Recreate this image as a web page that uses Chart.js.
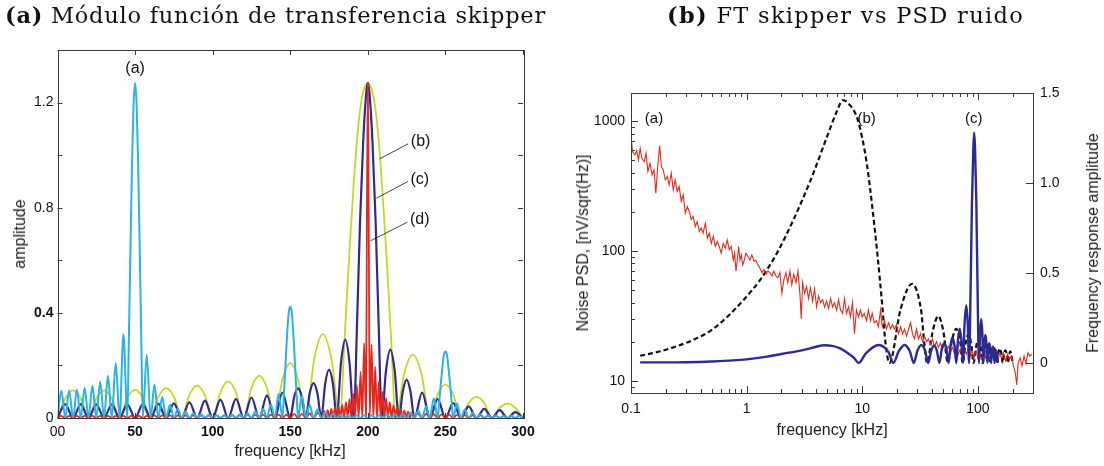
<!DOCTYPE html>
<html>
<head>
<meta charset="utf-8">
<script src="https://cdn.jsdelivr.net/npm/chart.js@4.4.1/dist/chart.umd.min.js"></script>
<style>
  body { margin: 0; background: #fff; }
  #wrap { position: relative; width: 1104px; height: 466px; background: #fff; overflow: hidden; }
  canvas { position: absolute; top: 0; }
  .hdr { position: absolute; top: 2px; font-family: "DejaVu Serif", serif; font-size: 22.5px; color: #111; white-space: nowrap; }
  .hdr b { font-weight: bold; }
  .lab { position: absolute; font-family: "Liberation Sans", Arial, sans-serif; font-size: 16px; color: #222; white-space: nowrap; transform: translate(-50%, -50%); }
  .rot { transform: translate(-50%, -50%) rotate(-90deg); }
</style>
</head>
<body>
<div id="wrap">
  <canvas id="left" width="560" height="466" style="left:0"></canvas>
  <canvas id="right" width="544" height="466" style="left:560px"></canvas>
  <div class="hdr" style="left:5px; letter-spacing:0.75px"><b>(a)</b> Módulo función de transferencia skipper</div>
  <div class="hdr" style="left:667px; letter-spacing:1.3px"><b>(b)</b> FT skipper vs PSD ruido</div>
  <div class="lab rot" style="left:20px; top:234px">amplitude</div>
  <div class="lab" style="left:290px; top:451px">frequency [kHz]</div>
  <div class="lab rot" style="left:583px; top:243px">Noise PSD, [nV/sqrt(Hz)]</div>
  <div class="lab" style="left:832px; top:430px">frequency [kHz]</div>
  <div class="lab rot" style="left:1093px; top:243px">Frequency response amplitude</div>
</div>
<script>
// ---- panel (a): transfer function modulus, 4 curves ----
const freqA = [0, 2.5, 5, 7.5, 10, 12.5, 15, 17.5, 20, 22.5, 25, 27.5, 30, 32.5, 35, 37.5, 40, 42.5, 45,
  46, 47, 48, 49, 50, 51, 52, 53, 54, 55,
  57.5, 60, 62.5, 65, 67.5, 70, 72.5, 75, 77.5, 80, 82.5, 85, 87.5, 90, 92.5, 95, 97.5, 100, 102.5, 105,
  107.5, 110, 112.5, 115, 117.5, 120, 122.5, 125, 127.5, 130, 132.5, 135, 137.5, 140, 142.5, 145,
  146, 147, 148, 149, 150, 151, 152, 153, 154,
  155, 157.5, 160, 162.5, 165, 167.5, 170, 172.5, 175, 177.5, 180, 182.5, 185, 187.5, 190, 192.5, 195,
  197.5, 200, 202.5, 205, 207.5, 210, 212.5, 215, 217.5, 220, 222.5, 225, 227.5, 230, 232.5, 235, 237.5,
  240, 242.5, 245,
  246, 247, 248, 249, 250, 251, 252, 253, 254,
  255, 257.5, 260, 262.5, 265, 267.5, 270, 272.5, 275, 277.5, 280, 282.5, 285, 287.5, 290, 292.5, 295, 297.5, 300];
const ampA = [0, .105, 0, .105, 0, .108, 0, .114, 0, .123, 0, .138, 0, .161, 0, .209, 0, .319, 0,
  .30, .64, .96, 1.19, 1.274, 1.19, .96, .64, .30, 0,
  .241, 0, .127, 0, .08, 0, .05, 0, .035, 0, .025, 0, .018, 0, .014, 0, .012, 0, .01, 0,
  .01, 0, .012, 0, .014, 0, .018, 0, .025, 0, .034, 0, .052, 0, .092, 0,
  .10, .21, .32, .40, .424, .40, .32, .21, .10,
  0, .085, 0, .05, 0, .032, 0, .022, 0, .016, 0, .012, 0, .01, 0, .01, 0,
  .01, 0, .01, 0, .01, 0, .012, 0, .014, 0, .016, 0, .02, 0, .028, 0, .045,
  0, .075, 0,
  .06, .13, .19, .24, .253, .24, .19, .13, .06,
  0, .055, 0, .032, 0, .02, 0, .014, 0, .011, 0, .009, 0, .008, 0, .008, 0, .008, 0];

const freqB = [0, 5, 10, 15, 20, 25, 30, 35, 40, 45, 50, 55, 60, 65, 70, 75, 80, 85, 90, 95, 100, 105, 110,
  115, 120, 125, 130, 135, 140, 145, 150, 155, 160, 165.5, 171, 176.5, 182,
  185, 188, 191, 194, 197, 200, 203, 206, 209, 212, 215,
  218, 223.5, 229, 234.5, 240, 245, 250, 255, 260, 265, 270, 275, 280, 285, 290, 295, 300];
const ampB = [0, .074, .105, .074, 0, .074, .105, .074, 0, .076, .108, .076, 0, .081, .114, .081, 0, .087, .123, .087, 0, .098, .139,
  .098, 0, .114, .161, .114, 0, .148, .209, .148, 0, .226, .319, .226, 0,
  .3, .62, .9, 1.12, 1.24, 1.274, 1.24, 1.12, .9, .62, .3,
  0, .17, .241, .17, 0, .09, .127, .09, 0, .057, .08, .057, 0, .039, .055, .039, 0];

const freqC = [0, 5, 10, 15, 20, 25, 30, 35, 40, 45, 50, 55, 60, 65, 70, 75, 80, 85, 90, 95, 100, 105, 110, 115,
  120, 125, 130, 135, 140, 145, 150, 152.5, 155, 157.5, 160, 162.5, 165, 167.5, 170, 172.5, 175, 177.5, 180,
  182.7, 185.5, 188.2, 191, 193, 195, 197, 199, 200, 201, 203, 205, 207, 209,
  211.7, 214.5, 217.3, 220, 222.5, 225, 227.5, 230, 235, 240, 245, 250, 255, 260, 265, 270, 275, 280, 285, 290, 295, 300];
const ampC = [0, .053, 0, .053, 0, .052, 0, .052, 0, .052, 0, .053, 0, .055, 0, .056, 0, .06, 0, .066, 0, .07, 0, .073,
  0, .078, 0, .086, 0, .097, 0, .08, .113, .08, 0, .094, .133, .094, 0, .13, .184, .13, 0,
  .21, .298, .21, 0, .35, .75, 1.05, 1.24, 1.274, 1.24, 1.05, .75, .35, 0,
  .18, .26, .18, 0, .1, .146, .1, 0, .097, 0, .072, 0, .057, 0, .044, 0, .035, 0, .03, 0, .022, 0];

const freqD = [0, 2.5, 5, 7.5, 10, 12.5, 15, 17.5, 20, 22.5, 25, 27.5, 30, 32.5, 35, 37.5, 40, 42.5, 45, 47.5,
  50, 52.5, 55, 57.5, 60, 62.5, 65, 67.5, 70, 72.5, 75, 77.5, 80, 82.5, 85, 87.5, 90, 92.5, 95, 97.5,
  100, 102.5, 105, 107.5, 110, 112.5, 115, 117.5, 120, 122.5, 125, 127.5, 130, 132.5, 135, 137.5, 140, 142.5,
  145, 147.5, 150, 152.5, 155, 157.5, 160, 162.5, 165,
  167.8, 170.6, 171.8, 172.95, 174.1, 175.3, 176.5, 177.65, 178.8, 180, 181.2, 182.35, 183.5, 184.7, 185.9,
  187.05, 188.2, 189.4, 190.6, 191.75, 192.9, 194.1, 195.3, 196.45, 197.6, 198.8, 199.4, 200, 200.6, 201.2,
  202.4, 203.55, 204.7, 205.9, 207.1, 208.25, 209.4, 210.6, 211.8, 212.95, 214.1, 215.3, 216.5, 217.65,
  218.8, 220, 221.2, 222.35, 223.5, 224.7, 225.9, 227.05, 228.2, 229.4,
  232, 235, 237.5, 240, 242.5, 245, 247.5, 250, 252.5, 255, 257.5, 260, 262.5, 265, 267.5, 270, 272.5, 275,
  277.5, 280, 282.5, 285, 287.5, 290, 292.5, 295, 297.5, 300];
const ampD = [0, .008, 0, .008, 0, .008, 0, .008, 0, .008, 0, .008, 0, .008, 0, .008, 0, .008, 0, .008,
  0, .008, 0, .008, 0, .01, 0, .01, 0, .01, 0, .01, 0, .01, 0, .01, 0, .01, 0, .01,
  0, .01, 0, .01, 0, .01, 0, .01, 0, .013, 0, .013, 0, .013, 0, .013, 0, .013,
  0, .013, 0, .016, 0, .016, 0, .018, 0,
  .02, 0, .027, 0, .03, 0, .035, 0, .04, 0, .044, 0, .05, 0, .06,
  0, .073, 0, .093, 0, .125, 0, .175, 0, .285, 0, .75, 1.274, .75, 0,
  .28, 0, .195, 0, .138, 0, .1, 0, .076, 0, .06, 0, .048, 0,
  .04, 0, .033, 0, .028, 0, .024, 0, .021, 0,
  .018, 0, .016, 0, .015, 0, .014, 0, .013, 0, .012, 0, .011, 0, .01, 0, .01, 0,
  .009, 0, .009, 0, .008, 0, .008, 0, .008, 0];

const xTicksA = [0, 50, 100, 150, 200, 250, 300];
const xLabelsA = ['00', '50', '100', '150', '200', '250', '300'];
const yTicksA = [0, 0.4, 0.8, 1.2];
const yLabelsA = ['0', '0.4', '0.8', '1.2'];
const yMarksA = [0, 0.2, 0.4, 0.6, 0.8, 1.0, 1.2, 1.4];

// ---- panel (b): skipper FT vs noise PSD ----
const noiseFreq = [0.1, 0.103, 0.108, 0.112, 0.116, 0.12, 0.124, 0.13, 0.135, 0.14,
  0.146, 0.152, 0.158, 0.164, 0.171, 0.177, 0.183, 0.19, 0.198, 0.206,
  0.214, 0.223, 0.232, 0.241, 0.251, 0.261, 0.272, 0.283, 0.295, 0.307,
  0.319, 0.332, 0.345, 0.36, 0.374, 0.39, 0.405, 0.42, 0.44, 0.457,
  0.475, 0.495, 0.515, 0.536, 0.557, 0.58, 0.603, 0.627, 0.654, 0.68,
  0.708, 0.737, 0.767, 0.787, 0.809, 0.83, 0.853, 0.876, 0.9, 0.924,
  0.948, 0.987, 1.03, 1.07, 1.11, 1.16, 1.2, 1.25, 1.3, 1.36,
  1.41, 1.47, 1.53, 1.59, 1.66, 1.72, 1.79, 1.86, 1.94, 2.02,
  2.1, 2.19, 2.27, 2.37, 2.46, 2.56, 2.67, 2.78, 2.89, 2.97,
  3.05, 3.17, 3.3, 3.43, 3.57, 3.72, 3.87, 4.03, 4.19, 4.36,
  4.54, 4.72, 4.92, 5.12, 5.32, 5.54, 5.76, 6.0, 6.24, 6.49,
  6.76, 7.03, 7.31, 7.61, 7.92, 8.24, 8.57, 8.91, 9.28, 9.65,
  10.0, 10.4, 10.9, 11.3, 11.8, 12.2, 12.7, 13.3, 13.8, 14.4,
  14.9, 15.6, 16.2, 16.9, 17.6, 18.3, 19.0, 19.8, 20.6, 21.5,
  22.3, 23.2, 24.2, 25.2, 26.2, 27.2, 28.3, 29.5, 30.7, 31.9,
  33.2, 34.6, 36.0, 37.4, 38.9, 40.5, 42.2, 43.9, 45.6, 47.5,
  49.4, 51.4, 53.4, 55.6, 57.8, 60.2, 62.6, 65.1, 67.7, 70.4,
  73.3, 76.2, 79.3, 82.4, 85.8, 89.2, 92.8, 96.5, 100, 104,
  108, 113, 117, 122, 127, 132, 137, 143, 148, 154,
  161, 167, 174, 181, 188, 196, 203, 211, 217, 223,
  232, 241, 251, 261, 271, 282, 292];
const noisePsd = [781, 581, 548, 591, 501, 616, 516, 487, 564, 408,
  472, 384, 420, 278, 472, 642, 445, 420, 352, 373,
  322, 396, 294, 352, 286, 313, 240, 270, 195, 219,
  201, 174, 184, 154, 168, 141, 150, 137, 163, 125,
  137, 114, 129, 108, 118, 108, 96, 114, 105, 121,
  102, 108, 85, 96, 70, 85, 108, 85, 93, 78,
  83, 96, 90, 85, 93, 83, 85, 78, 74, 68,
  72, 66, 70, 68, 64, 70, 64, 62, 68, 47,
  60, 68, 57, 70, 55, 66, 57, 70, 47, 30,
  57, 47, 53, 43, 52, 41, 51, 37, 45, 40,
  42, 37, 41, 36, 43, 37, 40, 35, 42, 35,
  33, 43, 33, 37, 31, 40, 23, 35, 31, 35,
  31, 33, 29, 35, 29, 33, 28, 29, 26, 35,
  26, 29, 25, 28, 25, 27, 25, 27, 23, 26,
  23, 25, 22, 25, 28, 23, 21, 25, 21, 23,
  20, 22, 20, 21, 19, 21, 18.4, 20, 18, 19.5,
  17.5, 19, 17, 18.4, 17, 18, 16.4, 18.4, 16, 17.5,
  15.5, 18, 16, 17.5, 15.5, 17, 15, 17, 15, 16.4,
  14.6, 17, 15, 16.4, 14.6, 16, 14.6, 16.4, 14.2, 16,
  15, 16.4, 14.2, 16, 14.6, 15.5, 13, 11.5, 9.3, 13.6,
  15, 13, 15.5, 13.6, 16.4, 15.5, 16];

const ftFreq = [0.12, 0.18, 0.25, 0.35, 0.49, 0.68, 0.95, 1.32, 1.84, 2.56, 3.6, 4.98, 6.05, 6.8, 7.9, 9.05, 10,
  11, 12.2, 13.5, 14.9, 15.9, 17.2, 21.5, 27, 32, 36.5, 40.5, 45.5, 50.5, 55, 60, 65, 70, 74, 78.5, 83, 87.5,
  92, 96.5, 101, 105.5, 110, 114.5, 119, 123.5, 128, 132.5, 137, 141.5, 146, 150.5, 155, 159.5, 164, 168.5,
  173, 177.5, 182, 186.5, 191, 195.5, 200];
const ftAmp = [0.04, 0.065, 0.093, 0.13, 0.18, 0.256, 0.353, 0.465, 0.613, 0.80, 1.02, 1.26, 1.40, 1.46, 1.43, 1.36, 1.25,
  1.10, 0.87, 0.61, 0.32, 0.11, 0, 0.30, 0.44, 0.31, 0, 0.17, 0.26, 0.17, 0, 0.13, 0.19, 0.13, 0, 0.11, 0.16, 0.11,
  0, 0.09, 0.13, 0.09, 0, 0.07, 0.10, 0.07, 0, 0.06, 0.09, 0.06, 0, 0.055, 0.08, 0.055, 0, 0.05, 0.07,
  0.05, 0, 0.045, 0.065, 0.045, 0];

const skFreq = [0.12, 0.2, 0.3, 0.5, 0.7, 1, 1.5, 2, 3, 4, 4.7, 5.5, 6.5, 7.5, 8.5, 9.3,
  10.8, 13.9, 16.9, 18.6, 20.7, 23.2, 25.8, 27.9, 30, 32.5, 35, 37.2, 39.5, 41.8, 44.2, 46.5,
  48.8, 51.2, 53.5, 55.8, 58.1, 60.4, 62.7, 65.1, 67.4, 69.7, 72, 74.4, 76.8, 79.4, 81.8, 84,
  86.5, 89, 91.5, 93, 94.5, 97, 99.5, 102.3,
  104.6, 107, 109.3, 111.6, 113.9, 116.2, 118.6, 120.9, 123.2, 125.5, 127.9, 130.2, 132.5, 134.8,
  137.2, 139.5, 141.8, 144.1, 146.5, 148.8];
const skAmp = [0.003, 0.003, 0.004, 0.008, 0.013, 0.02, 0.035, 0.05, 0.07, 0.09, 0.098, 0.095, 0.08, 0.055, 0.028, 0,
  0.055, 0.10, 0.06, 0, 0.065, 0.10, 0.065, 0, 0.068, 0.10, 0.068, 0, 0.068, 0.097, 0.068, 0,
  0.078, 0.11, 0.078, 0, 0.1, 0.14, 0.1, 0, 0.13, 0.19, 0.13, 0, 0.22, 0.32, 0.22, 0,
  0.4, 0.9, 1.2, 1.28, 1.2, 0.9, 0.4, 0,
  0.17, 0.245, 0.17, 0, 0.11, 0.155, 0.11, 0, 0.08, 0.11, 0.08, 0, 0.065, 0.09,
  0.065, 0, 0.05, 0.07, 0.05, 0];

const xTicksB = [0.1, 1, 10, 100];
const xLabelsB = ['0.1', '1', '10', '100'];
const xMinorB = [0.2, 0.3, 0.4, 0.5, 0.6, 0.7, 0.8, 0.9, 2, 3, 4, 5, 6, 7, 8, 9,
  20, 30, 40, 50, 60, 70, 80, 90, 200];
const yTicksB = [10, 100, 1000];
const yLabelsB = ['10', '100', '1000'];
const yMinorB = [9, 20, 30, 40, 50, 60, 70, 80, 90, 200, 300, 400, 500, 600, 700, 800, 900];
const y2TicksB = [0, 0.5, 1, 1.5];
const y2LabelsB = ['0', '0.5', '1.0', '1.5'];

function pts(xs, ys) {
  return xs.map((x, i) => ({ x: x, y: ys[i] }));
}

const tickFont = { family: '"Liberation Sans", Arial, sans-serif', size: 14 };

// frame plus inward tick marks on chosen sides
const frameTicks = {
  id: 'frameTicks',
  afterDatasetsDraw(chart, args, opts) {
    const ctx = chart.ctx;
    const a = chart.chartArea;
    ctx.save();
    ctx.strokeStyle = '#3a3a3a';
    ctx.lineWidth = 1;
    ctx.strokeRect(Math.round(a.left) + 0.5, Math.round(a.top) + 0.5,
      Math.round(a.right - a.left), Math.round(a.bottom - a.top));
    ctx.beginPath();
    opts.marks.forEach(m => {
      const sc = chart.scales[m.axis];
      m.values.forEach(v => {
        const p = Math.round(sc.getPixelForValue(v)) + 0.5;
        m.sides.forEach(s => {
          if (s === 'bottom') { ctx.moveTo(p, a.bottom); ctx.lineTo(p, a.bottom - m.len); }
          if (s === 'top') { ctx.moveTo(p, a.top); ctx.lineTo(p, a.top + m.len); }
          if (s === 'left') { ctx.moveTo(a.left, p); ctx.lineTo(a.left + m.len, p); }
          if (s === 'right') { ctx.moveTo(a.right, p); ctx.lineTo(a.right - m.len, p); }
        });
      });
    });
    ctx.stroke();
    ctx.restore();
  }
};

// curve labels and pointer lines, placed in data units
const notes = {
  id: 'notes',
  afterDatasetsDraw(chart, args, opts) {
    const ctx = chart.ctx;
    const xs = chart.scales.x;
    const ys = chart.scales[opts.axis];
    ctx.save();
    ctx.font = opts.size + 'px "Liberation Sans", Arial, sans-serif';
    ctx.fillStyle = '#111';
    ctx.strokeStyle = '#111';
    ctx.lineWidth = 0.8;
    ctx.textAlign = 'center';
    ctx.textBaseline = 'middle';
    opts.labels.forEach(l => {
      ctx.fillText(l.text, xs.getPixelForValue(l.x), ys.getPixelForValue(l.y));
    });
    opts.pointers.forEach(p => {
      ctx.beginPath();
      ctx.moveTo(xs.getPixelForValue(p[0]), ys.getPixelForValue(p[1]));
      ctx.lineTo(xs.getPixelForValue(p[2]), ys.getPixelForValue(p[3]));
      ctx.stroke();
    });
    ctx.restore();
  }
};

function curve(xs, ys, color, width, extra) {
  return Object.assign({
    data: pts(xs, ys),
    borderColor: color,
    borderWidth: width,
    pointRadius: 0,
    fill: false,
    cubicInterpolationMode: 'monotone'
  }, extra || {});
}

const boldA = [50, 100, 150, 200, 250, 300, 0.4];

new Chart(document.getElementById('left'), {
  type: 'line',
  data: {
    datasets: [
      curve(freqA, ampA, '#2bb3e3', 2),
      curve(freqD, ampD, '#e6281c', 1.8),
      curve(freqC, ampC, '#2f2a8f', 2.2),
      curve(freqB, ampB, '#c3d91f', 1.8)
    ]
  },
  options: {
    responsive: false,
    animation: false,
    events: [],
    layout: { padding: { top: 50, right: 37, left: 0, bottom: 0 } },
    plugins: {
      legend: { display: false },
      tooltip: { enabled: false },
      frameTicks: {
        marks: [
          { axis: 'x', values: xTicksA, len: 5, sides: ['bottom', 'top'] },
          { axis: 'y', values: yMarksA, len: 5, sides: ['left', 'right'] }
        ]
      },
      notes: {
        axis: 'y',
        size: 16,
        labels: [
          { text: '(a)', x: 50, y: 1.33 },
          { text: '(b)', x: 234, y: 1.05 },
          { text: '(c)', x: 233.5, y: 0.906 },
          { text: '(d)', x: 233.5, y: 0.756 }
        ],
        pointers: [
          [207.7, 0.986, 225.9, 1.043],
          [205.5, 0.836, 225.9, 0.9],
          [201.7, 0.674, 225.5, 0.745]
        ]
      }
    },
    scales: {
      x: {
        type: 'linear', min: 0, max: 300,
        grid: { display: false, drawTicks: false },
        border: { display: false },
        afterFit: s => { s.height = 48; },
        afterBuildTicks: s => { s.ticks = xTicksA.map(v => ({ value: v })); },
        ticks: {
          padding: 6, color: '#111', maxRotation: 0, autoSkip: false,
          font: c => Object.assign({}, tickFont, { weight: boldA.includes(c.tick && c.tick.value) ? 'bold' : 'normal' }),
          callback: (v, i) => xLabelsA[i]
        }
      },
      y: {
        type: 'linear', min: 0, max: 1.4,
        grid: { display: false, drawTicks: false },
        border: { display: false },
        afterFit: s => { s.width = 57.5; },
        afterBuildTicks: s => { s.ticks = yTicksA.map(v => ({ value: v })); },
        ticks: {
          padding: 4, color: '#111',
          font: c => Object.assign({}, tickFont, { weight: boldA.includes(c.tick && c.tick.value) ? 'bold' : 'normal' }),
          callback: (v, i) => yLabelsA[i]
        }
      }
    }
  },
  plugins: [frameTicks, notes]
});

new Chart(document.getElementById('right'), {
  type: 'line',
  data: {
    datasets: [
      curve(skFreq, skAmp, '#2c2a94', 2.4, { yAxisID: 'y2' }),
      curve(noiseFreq, noisePsd, '#e42b1e', 1.1, { yAxisID: 'y', cubicInterpolationMode: 'default', tension: 0 }),
      curve(ftFreq, ftAmp, '#111111', 2.2, { yAxisID: 'y2', borderDash: [5, 3] })
    ]
  },
  options: {
    responsive: false,
    animation: false,
    events: [],
    layout: { padding: { top: 93, right: 26, left: 0, bottom: 0 } },
    plugins: {
      legend: { display: false },
      tooltip: { enabled: false },
      frameTicks: {
        marks: [
          { axis: 'x', values: xTicksB, len: 7, sides: ['bottom', 'top'] },
          { axis: 'x', values: xMinorB, len: 4, sides: ['bottom', 'top'] },
          { axis: 'y', values: yTicksB, len: 7, sides: ['left'] },
          { axis: 'y', values: yMinorB, len: 4, sides: ['left'] },
          { axis: 'y2', values: y2TicksB, len: 7, sides: ['right'] }
        ]
      },
      notes: {
        axis: 'y2',
        size: 15,
        labels: [
          { text: '(a)', x: 0.158, y: 1.357 },
          { text: '(b)', x: 10.9, y: 1.357 },
          { text: '(c)', x: 92, y: 1.357 }
        ],
        pointers: []
      }
    },
    scales: {
      x: {
        type: 'logarithmic', min: 0.1, max: 300,
        grid: { display: false, drawTicks: false },
        border: { display: false },
        afterFit: s => { s.height = 73; },
        afterBuildTicks: s => { s.ticks = xTicksB.map(v => ({ value: v })); },
        ticks: { padding: 8, color: '#111', font: tickFont, maxRotation: 0, autoSkip: false,
          callback: (v, i) => xLabelsB[i] }
      },
      y: {
        type: 'logarithmic', position: 'left', min: 8.05, max: 1640,
        grid: { display: false, drawTicks: false },
        border: { display: false },
        afterFit: s => { s.width = 71; },
        afterBuildTicks: s => { s.ticks = yTicksB.map(v => ({ value: v })); },
        ticks: { padding: 6, color: '#111', font: tickFont, autoSkip: false,
          callback: (v, i) => yLabelsB[i] }
      },
      y2: {
        type: 'linear', position: 'right', min: -0.167, max: 1.5,
        grid: { display: false, drawTicks: false },
        border: { display: false },
        afterFit: s => { s.width = 45; },
        afterBuildTicks: s => { s.ticks = y2TicksB.map(v => ({ value: v })); },
        ticks: { padding: 7, color: '#111', font: tickFont, autoSkip: false,
          callback: (v, i) => y2LabelsB[i] }
      }
    }
  },
  plugins: [frameTicks, notes]
});
</script>
</body>
</html>
